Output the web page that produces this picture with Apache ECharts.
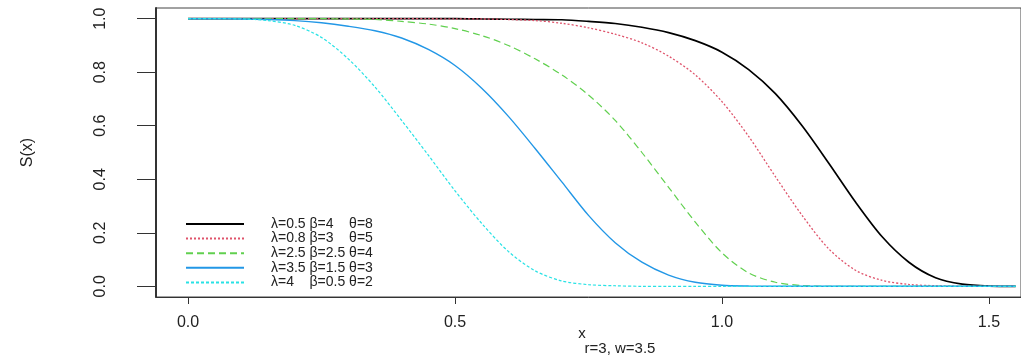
<!DOCTYPE html>
<html>
<head>
<meta charset="utf-8">
<script src="https://cdn.jsdelivr.net/npm/echarts@6/dist/echarts.min.js"></script>
<style>html,body{margin:0;padding:0;background:#fff}#c{width:1021px;height:362px}</style>
</head>
<body>
<div id="c"></div>
<script>
// x grid of the curves
const xValues = [0, 0.05, 0.1, 0.15, 0.2, 0.25, 0.3, 0.35, 0.4, 0.45, 0.5, 0.55, 0.6, 0.65, 0.7, 0.75,
  0.8, 0.85, 0.9, 0.95, 1.0, 1.05, 1.1, 1.15, 1.2, 1.25, 1.3, 1.35, 1.4, 1.45, 1.5, 1.55];
// S(x)
const sLam05 = [1, 1, 1, 1, 1, 1, 1, 1, 1, 1, 1, 0.999, 0.998, 0.997, 0.996, 0.99,
  0.982, 0.968, 0.948, 0.918, 0.875, 0.81, 0.72, 0.60, 0.46, 0.315, 0.185, 0.09, 0.032, 0.008, 0.001, 0];
const sLam08 = [1, 1, 1, 1, 1, 1, 1, 1, 1, 1, 0.999, 0.999, 0.997, 0.993, 0.983, 0.966,
  0.942, 0.91, 0.86, 0.79, 0.69, 0.56, 0.41, 0.265, 0.14, 0.06, 0.022, 0.007, 0.002, 0, 0, 0];
const sLam25 = [1, 1, 1, 1, 1, 1, 0.999, 0.997, 0.99, 0.98, 0.963, 0.937, 0.90, 0.85, 0.79, 0.715,
  0.62, 0.50, 0.37, 0.24, 0.125, 0.05, 0.015, 0.003, 0, 0, 0, 0, 0, 0, 0, 0];
const sLam35 = [1, 1, 0.999, 0.997, 0.993, 0.985, 0.972, 0.955, 0.928, 0.885, 0.825, 0.74, 0.635, 0.515, 0.39, 0.265,
  0.163, 0.09, 0.042, 0.015, 0.004, 0.001, 0, 0, 0, 0, 0, 0, 0, 0, 0, 0];
const sLam4 = [1, 1, 0.999, 0.993, 0.975, 0.93, 0.85, 0.745, 0.62, 0.49, 0.357, 0.235, 0.13, 0.058, 0.02, 0.006,
  0.002, 0, 0, 0, 0, 0, 0, 0, 0, 0, 0, 0, 0, 0, 0, 0];

const seriesNames = ['λ=0.5 β=4    θ=8', 'λ=0.8 β=3    θ=5', 'λ=2.5 β=2.5 θ=4', 'λ=3.5 β=1.5 θ=3', 'λ=4    β=0.5 θ=2'];
const seriesValues = [sLam05, sLam08, sLam25, sLam35, sLam4];
const xTickValues = [0, 0.5, 1.0, 1.5];
const yTickValues = [0, 0.2, 0.4, 0.6, 0.8, 1.0];
const xTitle = 'x';
const subTitle = 'r=3, w=3.5';
const yTitle = 'S(x)';

const colors = ['#000000', '#DF536B', '#61D04F', '#2297E6', '#28E2E5'];
const dashes = ['solid', [2, 2], [7, 4], 'solid', [3, 2]];
const widths = [1.7, 1.3, 1.2, 1.4, 1.2];

const chart = echarts.init(document.getElementById('c'), null, {renderer: 'canvas'});
const font = 'Liberation Sans, Arial, Helvetica, sans-serif';
chart.setOption({
  animation: false,
  backgroundColor: '#fff',
  textStyle: {fontFamily: font},
  grid: {left: 156, top: 8, width: 870, height: 289, show: true, borderColor: '#444', borderWidth: 1},
  xAxis: {
    type: 'value', min: -0.06, max: 1.56,
    axisLine: {show: true, onZero: false, lineStyle: {color: '#333', width: 1}},
    axisTick: {show: true, length: 7, customValues: xTickValues, lineStyle: {color: '#333'}},
    axisLabel: {customValues: xTickValues, formatter: v => v.toFixed(1), margin: 18, fontSize: 16, color: '#222', fontFamily: font},
    splitLine: {show: false}
  },
  yAxis: {
    type: 'value', min: -0.04, max: 1.04,
    name: yTitle, nameLocation: 'middle', nameRotate: 90, nameGap: 120,
    nameTextStyle: {fontSize: 16, color: '#222', fontFamily: font},
    axisLine: {show: true, onZero: false, lineStyle: {color: '#333', width: 2}},
    axisTick: {show: true, length: 19, customValues: yTickValues, lineStyle: {color: '#333'}},
    axisLabel: {customValues: yTickValues, rotate: 90, formatter: v => v.toFixed(1), margin: 47, fontSize: 16, color: '#222', fontFamily: font},
    splitLine: {show: false}
  },
  title: [
    {text: xTitle, left: 582, top: 326, textAlign: 'center', padding: 0,
     textStyle: {fontSize: 15, fontWeight: 'normal', color: '#222', fontFamily: font}},
    {text: subTitle, left: 620, top: 341, textAlign: 'center', padding: 0,
     textStyle: {fontSize: 15, fontWeight: 'normal', color: '#222', fontFamily: font}}
  ],
  legend: {
    orient: 'vertical', left: 185, top: 217, padding: 0,
    itemWidth: 58, itemHeight: 10, itemGap: 0.6,
    data: seriesNames,
    itemStyle: {opacity: 0},
    textStyle: {fontSize: 14, lineHeight: 14, padding: [0, 0, 0, 22], color: '#222', fontFamily: font}
  },
  series: seriesNames.map((name, i) => ({
    name: name,
    type: 'line',
    symbol: 'none',
    smooth: 0.3,
    data: xValues.map((x, j) => [x, seriesValues[i][j]]),
    lineStyle: {color: colors[i], width: widths[i], type: dashes[i]},
    itemStyle: {color: colors[i]}
  }))
});
</script>
</body>
</html>
